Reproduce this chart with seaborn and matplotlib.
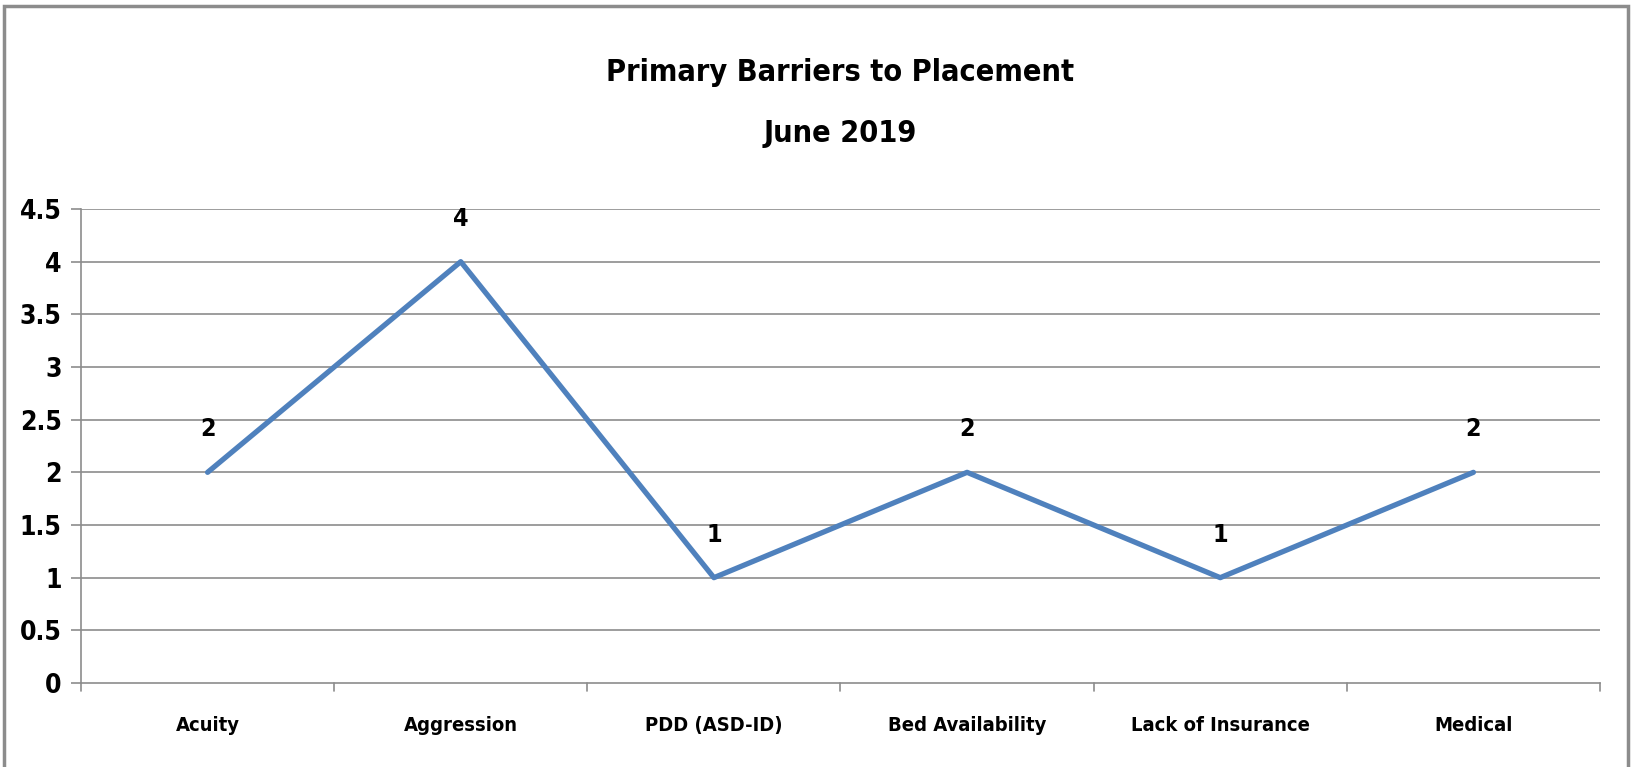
import matplotlib.pyplot as plt
import pandas as pd
import seaborn as sns
from matplotlib.patches import Rectangle

# Data
categories = ["Acuity", "Aggression", "PDD (ASD-ID)", "Bed Availability", "Lack of Insurance", "Medical"]
counts = [2, 4, 1, 2, 1, 2]
y_ticks = [0, 0.5, 1, 1.5, 2, 2.5, 3, 3.5, 4, 4.5]
y_tick_labels = ["0", "0.5", "1", "1.5", "2", "2.5", "3", "3.5", "4", "4.5"]
title = "Primary Barriers to Placement\nJune 2019"

df = pd.DataFrame({"barrier": categories, "count": counts})

sns.set_style("white")
plt.rcParams["font.family"] = ["DejaVu Sans"]
plt.rcParams["font.stretch"] = "condensed"
plt.rcParams["font.weight"] = "bold"
plt.rcParams["text.color"] = "black"
plt.rcParams["xtick.color"] = "black"
plt.rcParams["ytick.color"] = "black"

W, H = 1633, 767
fig = plt.figure(figsize=(W / 100, H / 100), dpi=100)
ax = fig.add_axes([81 / W, 1 - 683 / H, (1600 - 81) / W, (683 - 209) / H])

sns.lineplot(data=df, x="barrier", y="count", ax=ax, sort=False,
             color="#4F81BD", linewidth=3.8, solid_capstyle="round")

ax.set_xlim(-0.5, len(categories) - 0.5)
ax.set_ylim(0, 4.5)
ax.set_yticks(y_ticks)
ax.set_yticklabels(y_tick_labels, fontsize=19, fontweight="bold")
ax.set_xticks(range(len(categories)))
ax.set_xticklabels(categories, fontsize=14.5, fontweight="bold")
ax.set_xlabel("")
ax.set_ylabel("")

# gridlines
for y in y_ticks[1:]:
    ax.axhline(y, color="#8c8c8c", linewidth=1.2, zorder=0)

for s in ["top", "right"]:
    ax.spines[s].set_visible(False)
for s in ["left", "bottom"]:
    ax.spines[s].set_color("#8c8c8c")
    ax.spines[s].set_linewidth(1.2)

# x ticks at boundaries
ax.tick_params(axis="x", length=0, pad=24, labelcolor="black")
ax.tick_params(axis="y", length=7, color="#8c8c8c", width=1.2, pad=7, left=True,
               labelcolor="black")
for b in range(len(categories) + 1):
    ax.plot([b - 0.5, b - 0.5], [0, -0.08], color="#8c8c8c", linewidth=1.2,
            clip_on=False)

# data labels
for i, v in enumerate(counts):
    ax.annotate(str(v), (i, v), xytext=(0, 31), textcoords="offset points",
                ha="center", va="center", fontsize=18, fontweight="bold")

fig.text(0.5 * (81 + 1600) / W, 1 - 103 / H, title, ha="center", va="center",
         fontsize=22, fontweight="bold", linespacing=2.35)

# outer border
fig.patches.append(Rectangle((4 / W, -0.02), (1628 - 4) / W, 1 - 6 / H + 0.02,
                             transform=fig.transFigure, fill=False,
                             edgecolor="#8c8c8c", linewidth=2.5))

fig.savefig("out.png", dpi=100)
